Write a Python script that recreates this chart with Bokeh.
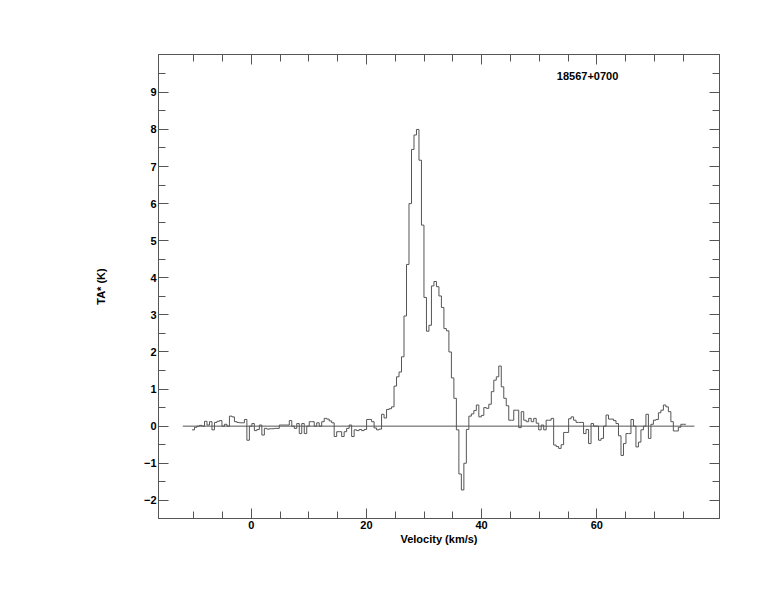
from bokeh.plotting import figure
from bokeh.models import Range1d, LinearAxis, FixedTicker, Label
from bokeh.embed import file_html
from bokeh.resources import INLINE

# ---- data ----
source_name = "18567+0700"
v_start = -10.28      # left edge of first channel (km/s)
dv = 0.433            # channel width (km/s)
ta = [
    -0.10, -0.03, 0.00, 0.02, 0.00, 0.13, 0.03, 0.12, -0.10, 0.10,
    0.13, 0.15, 0.00, 0.05, 0.00, 0.27, 0.25, 0.12, 0.10, 0.09,
    0.09, 0.18, -0.38, 0.00, 0.07, -0.12, -0.09, 0.03, -0.24, -0.06,
    -0.08, -0.07, -0.07, -0.06, -0.06, 0.03, 0.03, 0.03, 0.03, 0.15,
    0.00, -0.06, 0.07, -0.20, 0.07, -0.20, 0.00, 0.12, 0.12, 0.00,
    0.09, 0.00, 0.12, 0.21, 0.19, 0.14, 0.09, -0.28, -0.15, -0.15,
    -0.28, -0.15, -0.06, 0.03, -0.28, -0.10, -0.12, -0.09, -0.12, -0.09,
    0.18, 0.18, 0.12, -0.05, -0.10, -0.08, 0.32, 0.22, 0.45, 0.47,
    0.52, 1.08, 1.33, 1.46, 1.87, 2.97, 4.36, 6.00, 7.46, 7.85,
    8.00, 7.17, 5.42, 3.47, 2.56, 2.72, 3.78, 3.90, 3.76, 3.51,
    3.20, 2.63, 2.57, 2.00, 1.30, 0.75, -0.10, -1.29, -1.72, -1.00,
    -0.09, 0.27, 0.33, 0.42, 0.57, 0.25, 0.29, 0.50, 0.48, 0.59,
    0.93, 1.24, 1.33, 1.62, 1.06, 0.75, 0.55, 0.16, 0.16, 0.43,
    0.43, -0.04, 0.39, 0.16, 0.12, 0.21, 0.12, 0.21, 0.08, -0.10,
    0.03, -0.10, 0.16, 0.16, 0.21, -0.51, -0.55, -0.60, -0.50, -0.17,
    -0.17, 0.20, 0.25, 0.16, 0.10, 0.10, 0.10, -0.20, -0.09, -0.47,
    0.07, 0.00, 0.00, -0.38, -0.33, 0.00, 0.30, 0.19, 0.19, 0.15,
    0.07, -0.26, -0.79, -0.47, -0.20, -0.20, 0.18, 0.00, -0.56, -0.43,
    -0.10, 0.00, 0.32, -0.33, 0.05, 0.16, 0.18, 0.36, 0.43, 0.57,
    0.52, 0.39, 0.12, -0.13, -0.13, -0.03, 0.05, 0.05,
]
x_major = [0, 20, 40, 60]
x_minor = [-10, -5, 5, 10, 15, 25, 30, 35, 45, 50, 55, 65, 70, 75]
y_major = [-2, -1, 0, 1, 2, 3, 4, 5, 6, 7, 8, 9]
y_minor = [-1.5, -0.5, 0.5, 1.5, 2.5, 3.5, 4.5, 5.5, 6.5, 7.5, 8.5, 9.5]

# ---- geometry derived from data ----
n = len(ta)
edges = [v_start + dv * i for i in range(n + 1)]
xs = edges
ys = ta + [ta[-1]]

LINE = "#555555"
FONT = "Liberation Sans"

p = figure(width=760, height=598, output_backend="svg", toolbar_location=None,
           x_range=Range1d(-16.1, 81.3), y_range=Range1d(-2.49, 10.02),
           min_border_left=158, min_border_right=41, min_border_top=54, min_border_bottom=80,
           x_axis_location=None, y_axis_location=None)
p.grid.visible = False
p.outline_line_color = LINE
p.background_fill_color = "white"
p.border_fill_color = "white"

def style_axis(ax, major, minor, labels=True):
    ax.ticker = FixedTicker(ticks=major, minor_ticks=minor)
    ax.axis_line_color = LINE
    ax.major_tick_line_color = LINE
    ax.minor_tick_line_color = LINE
    ax.major_tick_in = 10
    ax.major_tick_out = 0
    ax.minor_tick_in = 7
    ax.minor_tick_out = 0
    ax.major_label_text_font = FONT
    ax.major_label_text_font_style = "bold"
    ax.major_label_text_font_size = "11px"
    ax.major_label_text_color = "black"
    ax.major_label_standoff = 2
    ax.axis_label_text_font = FONT
    ax.axis_label_text_font_style = "bold"
    ax.axis_label_text_font_size = "11px"
    ax.axis_label_text_color = "black"
    if not labels:
        ax.major_label_text_font_size = "0px"
        ax.major_label_text_alpha = 0

xb = LinearAxis(axis_label="Velocity (km/s)")
style_axis(xb, x_major, x_minor)
xb.axis_label_standoff = 1
p.add_layout(xb, "below")

yl = LinearAxis(axis_label="TA* (K)")
style_axis(yl, y_major, y_minor)
yl.axis_label_standoff = 34
p.add_layout(yl, "left")

xt = LinearAxis()
style_axis(xt, x_major, x_minor, labels=False)
p.add_layout(xt, "above")

yr = LinearAxis()
style_axis(yr, y_major, y_minor, labels=False)
p.add_layout(yr, "right")

# baseline
p.line(x=[edges[0] - 1.6, edges[-1] + 1.5], y=[0, 0], line_color=LINE, line_width=1)

# spectrum
p.step(x=xs, y=ys, mode="after", line_color=LINE, line_width=1)

p.add_layout(Label(x=53.05, y=9.44, text=source_name, text_font=FONT,
                   text_font_style="bold", text_font_size="11px",
                   text_color="black", text_baseline="middle", text_align="left"))

open("out.html", "w").write(file_html(p, INLINE))
